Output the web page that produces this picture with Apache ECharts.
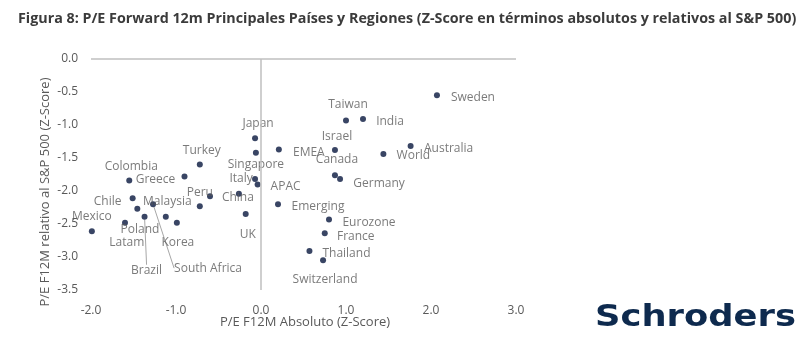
<!DOCTYPE html>
<html>
<head>
<meta charset="utf-8">
<script src="https://cdn.jsdelivr.net/npm/echarts@6/dist/echarts.min.js"></script>
<style>
  html, body { margin: 0; padding: 0; background: #fff; }
  #chart { width: 800px; height: 353px; }
</style>
</head>
<body>
<div id="chart"></div>
<script>
// paises / regiones
var names = ['Sweden', 'Taiwan', 'India', 'Japan', 'Singapore', 'EMEA', 'Israel', 'World', 'Australia',
  'Canada', 'Germany', 'Italy', 'APAC', 'China', 'Emerging', 'UK', 'Eurozone', 'France', 'Thailand',
  'Switzerland', 'Colombia', 'Greece', 'Turkey', 'Chile', 'Peru', '', 'Malaysia', 'South Africa',
  'Brazil', 'Poland', 'Latam', 'Korea', 'Mexico']
// P/E F12M absoluto (Z-Score)
var absZ = [2.07, 1.00, 1.20, -0.07, -0.06, 0.21, 0.87, 1.44, 1.76,
  0.87, 0.93, -0.07, -0.04, -0.26, 0.20, -0.18, 0.80, 0.75, 0.57,
  0.73, -1.55, -0.90, -0.72, -1.51, -0.72, -0.60, -1.455, -1.27,
  -1.37, -1.60, -1.12, -0.99, -1.99]
// P/E F12M relativo al S&P 500 (Z-Score)
var relZ = [-0.55, -0.93, -0.91, -1.20, -1.42, -1.37, -1.38, -1.44, -1.32,
  -1.76, -1.82, -1.82, -1.90, -2.04, -2.20, -2.35, -2.43, -2.64, -2.91,
  -3.05, -1.84, -1.78, -1.60, -2.11, -2.23, -2.08, -2.27, -2.20,
  -2.39, -2.48, -2.39, -2.48, -2.61]

// donde va cada etiqueta respecto a su punto (px)
var labelOffsets = {
  'Sweden': [36, 2], 'Taiwan': [2, -16], 'India': [27, 3], 'Japan': [3, -15],
  'Singapore': [0, 12], 'EMEA': [30, 3], 'Israel': [2, -14], 'World': [30, 2],
  'Australia': [38, 2], 'Canada': [2, -16], 'Germany': [39, 4], 'Italy': [-14, -1],
  'APAC': [28, 2], 'China': [-1, 4], 'Emerging': [40, 2], 'UK': [2, 20],
  'Eurozone': [40, 3], 'France': [31, 3], 'Thailand': [37, 3], 'Switzerland': [2, 19],
  'Colombia': [2, -14], 'Greece': [-29, 3], 'Turkey': [2, -14], 'Chile': [-25, 3],
  'Peru': [0, -14], 'Malaysia': [30, -7], 'South Africa': [55, 64], 'Brazil': [2, 54],
  'Poland': [15, 7], 'Latam': [-39, 26], 'Korea': [1, 20], 'Mexico': [0, -15]
}
var withLeader = ['Brazil', 'South Africa']

var font = 'Open Sans'
var grey = '#595959'

var chart = echarts.init(document.getElementById('chart'))

var points = names.map(function (n, i) {
  var item = { name: n, value: [absZ[i], relZ[i]] }
  if (withLeader.indexOf(n) >= 0) {
    item.labelLine = { show: true, lineStyle: { color: '#a6a6a6', width: 1 } }
  }
  return item
})

var option = {
  animation: false,
  title: {
    text: 'Figura 8: P/E Forward 12m Principales Países y Regiones (Z-Score en términos absolutos y relativos al S&P 500)',
    left: 13,
    top: 7,
    textStyle: { fontFamily: font, fontSize: 14.3, fontWeight: 'bold', color: '#3b3b3b' }
  },
  grid: { left: 91, top: 59, width: 425, height: 231 },
  xAxis: {
    type: 'value',
    min: -2,
    max: 3,
    interval: 1,
    axisLine: { show: false },
    axisTick: { show: false },
    splitLine: { show: false },
    axisLabel: {
      margin: 15,
      color: grey,
      fontFamily: font,
      fontSize: 12,
      formatter: function (v) { return v.toFixed(1) }
    }
  },
  yAxis: {
    type: 'value',
    min: -3.5,
    max: 0,
    interval: 0.5,
    axisLine: { show: false },
    axisTick: { show: false },
    splitLine: { show: false },
    axisLabel: {
      margin: 13,
      color: grey,
      fontFamily: font,
      fontSize: 12,
      formatter: function (v) { return v.toFixed(1) }
    }
  },
  graphic: [
    {
      type: 'text',
      x: 305,
      y: 322,
      style: {
        text: 'P/E F12M Absoluto (Z-Score)',
        fill: grey,
        font: '13px "Open Sans"',
        align: 'center',
        verticalAlign: 'middle'
      }
    },
    {
      type: 'text',
      x: 45,
      y: 192,
      rotation: Math.PI / 2,
      style: {
        text: 'P/E F12M relativo al S&P 500 (Z-Score)',
        fill: grey,
        font: '13px "Open Sans"',
        align: 'center',
        verticalAlign: 'middle'
      }
    },
    {
      type: 'text',
      x: 595,
      y: 302,
      scaleX: 1.14,
      style: { text: 'Schroders', fill: '#0e2a4e', font: 'bold 31px "DejaVu Sans"' }
    }
  ],
  series: [
    {
      type: 'scatter',
      symbolSize: 6,
      itemStyle: { color: '#08173d' },
      data: points,
      label: {
        show: true,
        position: 'inside',
        formatter: '{b}',
        color: grey,
        fontFamily: font,
        fontSize: 12,
        align: 'center',
        verticalAlign: 'middle'
      },
      labelLayout: function (p) {
        var o = labelOffsets[names[p.dataIndex]] || [0, 0]
        return { dx: o[0], dy: o[1] }
      },
      markLine: {
        silent: true,
        symbol: ['none', 'none'],
        label: { show: false },
        lineStyle: { color: '#bfbfbf', width: 1.5, type: 'solid' },
        data: [{ xAxis: 0 }, { yAxis: 0 }]
      }
    }
  ]
}

chart.setOption(option)
</script>
</body>
</html>
